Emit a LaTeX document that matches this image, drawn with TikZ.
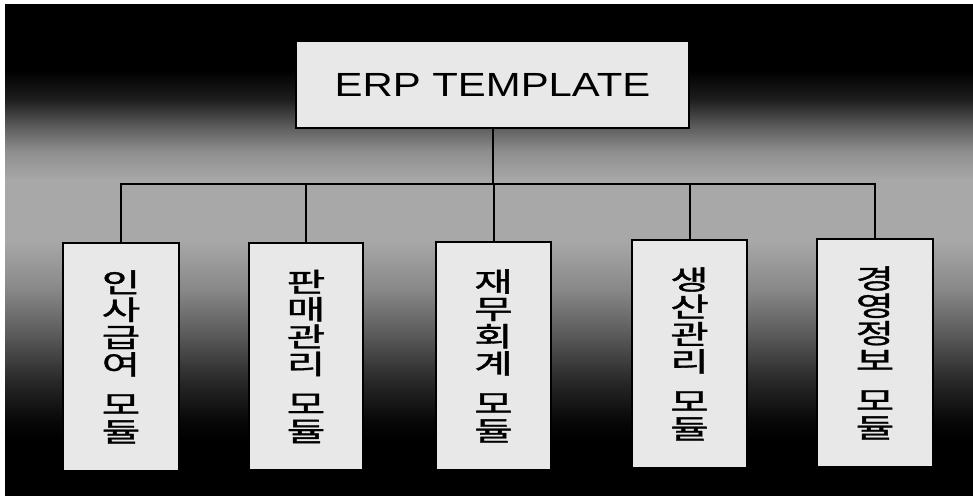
\documentclass[tikz,border=0pt]{standalone}
\usepackage{fontspec}
\setmainfont{Liberation Sans}
\newfontfamily\kr[FakeBold=1.2]{Noto Sans CJK KR}
\colorlet{boxfill}{white!91!black}
\newcommand\modtext[6]{\scalebox{1.55}[1]{\kr\fontsize{27}{27.3}\selectfont\vbox{\baselineskip=27.3pt\lineskiplimit=-100pt\halign{\hfil##\hfil\cr#1\cr#2\cr#3\cr#4\cr\noalign{\vskip12.7pt}#5\cr#6\cr}}}}
\begin{document}
\begin{tikzpicture}[x=1pt,y=-1pt,
  topbox/.style={draw=black, line width=2pt, fill=boxfill, inner sep=0pt,
    minimum width=393pt, minimum height=87pt},
  modbox/.style={draw=black, line width=2pt, fill=boxfill, inner sep=0pt},
  link/.style={draw=black, line width=2pt}]
\useasboundingbox (0,0) rectangle (973,498);
\fill[white] (0,0) rectangle (973,498);
\fill[black] (5,4) rectangle (973,496);
% background band
\shade[top color=black, bottom color=white!12!black] (5,70) rectangle (973,100.5);
\shade[top color=white!12!black, bottom color=white!35!black] (5,100) rectangle (973,125.5);
\shade[top color=white!35!black, bottom color=white!55!black] (5,125) rectangle (973,150.5);
\shade[top color=white!55!black, bottom color=white!66!black] (5,150) rectangle (973,180.5);
\fill[white!66!black] (5,180) rectangle (973,240.5);
\shade[top color=white!66!black, bottom color=white!53!black] (5,240) rectangle (973,290.5);
\shade[top color=white!53!black, bottom color=white!33!black] (5,290) rectangle (973,340.5);
\shade[top color=white!33!black, bottom color=white!16!black] (5,340) rectangle (973,380.5);
\shade[top color=white!16!black, bottom color=white!3!black] (5,380) rectangle (973,420.5);
\shade[top color=white!3!black, bottom color=black] (5,420) rectangle (973,440);
% nodes
\node[topbox] (top) at (492.5,84.5)
  {\raisebox{-3.5pt}{\fontsize{33.5}{40}\selectfont\scalebox{1.25}[1]{ERP TEMPLATE}}};
\node[modbox, minimum width=116pt, minimum height=228pt] (m1) at (121,357) {\modtext{인}{사}{급}{여}{모}{듈}};
\node[modbox, minimum width=114pt, minimum height=227pt] (m2) at (306,356.5) {\modtext{판}{매}{관}{리}{모}{듈}};
\node[modbox, minimum width=115pt, minimum height=228pt] (m3) at (493.5,356) {\modtext{재}{무}{회}{계}{모}{듈}};
\node[modbox, minimum width=115pt, minimum height=228pt] (m4) at (689.5,354) {\modtext{생}{산}{관}{리}{모}{듈}};
\node[modbox, minimum width=116pt, minimum height=228pt] (m5) at (875,353) {\modtext{경}{영}{정}{보}{모}{듈}};
% connectors
\coordinate (bus) at (493,184);
\draw[link] (top.south) -- (top.south |- bus);
\foreach \m in {m1,m2,m3,m4,m5} \draw[link] (\m.north) |- (bus);
\end{tikzpicture}
\end{document}
